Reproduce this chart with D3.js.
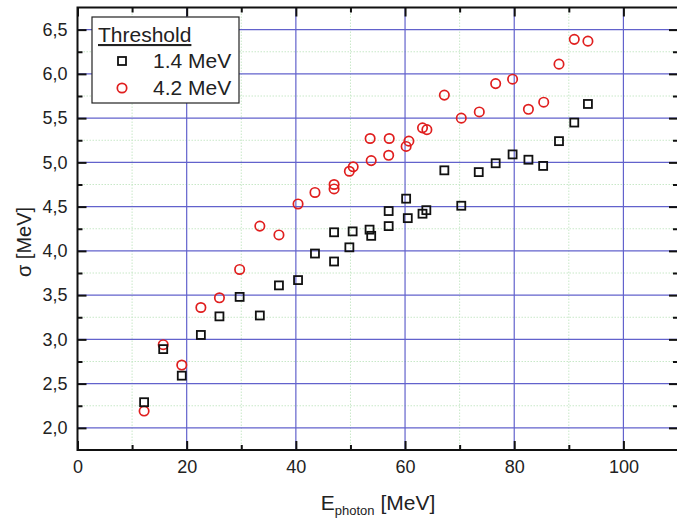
<!DOCTYPE html>
<html>
<head>
<meta charset="utf-8">
<script src="https://cdn.jsdelivr.net/npm/d3@7"></script>
<style>
	body { margin: 0; background: #fff; }
	svg { font-family: 'Liberation Sans', Arial, sans-serif; }
</style>
</head>
<body>
<div class="chart"></div>
<script>
// E_photon [MeV]
let energyLow = [12.2, 15.7, 19.1, 22.6, 26.0, 29.7, 33.4, 36.9, 40.4, 43.5, 47.0, 47.0, 49.8, 50.4, 53.5, 53.8,
	57.0, 57.0, 60.5, 60.2, 63.2, 63.9, 70.3, 67.2, 73.5, 76.6, 79.7, 82.6, 85.3, 88.2, 91.0, 93.5];
// sigma, threshold 1.4 MeV
let sigmaLow = [2.29, 2.89, 2.59, 3.05, 3.26, 3.48, 3.27, 3.61, 3.67, 3.97, 3.88, 4.21, 4.04, 4.22, 4.24, 4.17,
	4.28, 4.45, 4.37, 4.59, 4.42, 4.46, 4.51, 4.91, 4.89, 4.99, 5.09, 5.03, 4.96, 5.24, 5.45, 5.66];
let energyHigh = [12.2, 15.7, 19.1, 22.6, 26.0, 29.7, 33.4, 36.9, 40.4, 43.5, 47.0, 47.0, 49.8, 50.5, 53.8, 53.6,
	57.0, 57.1, 60.2, 60.7, 63.2, 64.0, 67.2, 70.3, 73.6, 76.6, 79.7, 82.6, 85.4, 88.2, 91.0, 93.5];
// sigma, threshold 4.2 MeV
let sigmaHigh = [2.19, 2.94, 2.71, 3.36, 3.47, 3.79, 4.28, 4.18, 4.53, 4.66, 4.70, 4.75, 4.90, 4.95, 5.02, 5.27,
	5.08, 5.27, 5.18, 5.24, 5.39, 5.37, 5.76, 5.50, 5.57, 5.89, 5.94, 5.60, 5.68, 6.11, 6.39, 6.37];

let xMajor = [0, 20, 40, 60, 80, 100];
let xMinor = [10, 30, 50, 70, 90];
let yMajor = [2.0, 2.5, 3.0, 3.5, 4.0, 4.5, 5.0, 5.5, 6.0, 6.5];
let yMinor = [2.25, 2.75, 3.25, 3.75, 4.25, 4.75, 5.25, 5.75, 6.25];
let seriesNames = ['1.4 MeV', '4.2 MeV'];

let W = 677, H = 520;
let margin = { top: 7.5, right: -1, bottom: 70, left: 77.5 };
let width = W - margin.left - margin.right;
let height = H - margin.top - margin.bottom;

let xScale = d3.scaleLinear().domain([0, 110]).range([0, width]);
let yScale = d3.scaleLinear().domain([1.75, 6.75]).range([height, 0]);

let svg = d3.select('.chart').append('svg')
	.attr('width', W)
	.attr('height', H);

let g = svg.append('g').attr('transform', 'translate(' + margin.left + ',' + margin.top + ')');

// minor grid (dotted, light green)
g.append('g').selectAll('line').data(xMinor).enter().append('line')
	.attr('x1', d => xScale(d)).attr('x2', d => xScale(d))
	.attr('y1', 0).attr('y2', height)
	.attr('stroke', '#c8e8c8').attr('stroke-width', 1).attr('stroke-dasharray', '1.5,1.5');
g.append('g').selectAll('line').data(yMinor).enter().append('line')
	.attr('x1', 0).attr('x2', width)
	.attr('y1', d => yScale(d)).attr('y2', d => yScale(d))
	.attr('stroke', '#c8e8c8').attr('stroke-width', 1).attr('stroke-dasharray', '1.5,1.5');

// major grid (blue)
g.append('g').selectAll('line').data(xMajor.slice(1)).enter().append('line')
	.attr('x1', d => xScale(d)).attr('x2', d => xScale(d))
	.attr('y1', 0).attr('y2', height)
	.attr('stroke', '#6262cc').attr('stroke-width', 1.2);
g.append('g').selectAll('line').data(yMajor).enter().append('line')
	.attr('x1', 0).attr('x2', width)
	.attr('y1', d => yScale(d)).attr('y2', d => yScale(d))
	.attr('stroke', '#6262cc').attr('stroke-width', 1.2);

// axes: ticks point inward
function styleAxis(sel) {
	sel.select('.domain').remove();
	sel.selectAll('line').attr('stroke', '#111').attr('stroke-width', 2);
	sel.selectAll('text').attr('font-size', 18).attr('fill', '#222');
}
let fmt = d3.format('.1f');

g.append('g')
	.attr('transform', 'translate(0,' + height + ')')
	.call(d3.axisBottom(xScale).tickValues(xMajor).tickSize(-9).tickPadding(10).tickFormat(d3.format('d')))
	.call(styleAxis);
g.append('g')
	.attr('transform', 'translate(0,' + height + ')')
	.call(d3.axisBottom(xScale).tickValues(xMinor).tickSize(-5).tickFormat(''))
	.call(styleAxis);
g.append('g')
	.call(d3.axisTop(xScale).tickValues(xMajor).tickSize(-9).tickFormat(''))
	.call(styleAxis);
g.append('g')
	.call(d3.axisTop(xScale).tickValues(xMinor).tickSize(-5).tickFormat(''))
	.call(styleAxis);

g.append('g')
	.call(d3.axisLeft(yScale).tickValues(yMajor).tickSize(-9).tickPadding(10).tickFormat(d => fmt(d).replace('.', ',')))
	.call(styleAxis);
g.append('g')
	.call(d3.axisLeft(yScale).tickValues(yMinor).tickSize(-5).tickFormat(''))
	.call(styleAxis);
g.append('g')
	.attr('transform', 'translate(' + width + ',0)')
	.call(d3.axisRight(yScale).tickValues(yMajor).tickSize(-9).tickFormat(''))
	.call(styleAxis);
g.append('g')
	.attr('transform', 'translate(' + width + ',0)')
	.call(d3.axisRight(yScale).tickValues(yMinor).tickSize(-5).tickFormat(''))
	.call(styleAxis);

// frame
g.append('rect')
	.attr('x', 0).attr('y', 0).attr('width', width).attr('height', height)
	.attr('fill', 'none').attr('stroke', '#111').attr('stroke-width', 2);

// data
let low = energyLow.map((e, i) => ({ e: e, s: sigmaLow[i] }));
let high = energyHigh.map((e, i) => ({ e: e, s: sigmaHigh[i] }));

g.append('g').selectAll('circle').data(high).enter().append('circle')
	.attr('cx', d => xScale(d.e)).attr('cy', d => yScale(d.s)).attr('r', 4.7)
	.attr('fill', 'none').attr('stroke', '#e01e1e').attr('stroke-width', 1.7);

g.append('g').selectAll('rect').data(low).enter().append('rect')
	.attr('x', d => xScale(d.e) - 4).attr('y', d => yScale(d.s) - 4)
	.attr('width', 8).attr('height', 8)
	.attr('fill', 'none').attr('stroke', '#111').attr('stroke-width', 1.8);

// legend
let legend = svg.append('g').attr('transform', 'translate(92,17)');
legend.append('rect')
	.attr('width', 147).attr('height', 86)
	.attr('fill', '#fff').attr('stroke', '#222').attr('stroke-width', 1.2);
legend.append('text')
	.attr('x', 6).attr('y', 25).attr('font-size', 21).attr('fill', '#222')
	.attr('text-decoration', 'underline')
	.text('Threshold');
legend.append('rect')
	.attr('x', 26).attr('y', 40).attr('width', 8).attr('height', 8)
	.attr('fill', 'none').attr('stroke', '#111').attr('stroke-width', 1.8);
legend.append('circle')
	.attr('cx', 30).attr('cy', 71).attr('r', 4.7)
	.attr('fill', 'none').attr('stroke', '#e01e1e').attr('stroke-width', 1.7);
legend.selectAll('.lbl').data(seriesNames).enter().append('text')
	.attr('class', 'lbl')
	.attr('x', 61).attr('y', (d, i) => 51 + i * 27)
	.attr('font-size', 21).attr('fill', '#222')
	.text(d => d);

// axis titles
svg.append('text')
	.attr('transform', 'translate(31,242) rotate(-90)')
	.attr('text-anchor', 'middle')
	.attr('font-size', 20).attr('fill', '#222')
	.text('σ [MeV]');

let xt = svg.append('text')
	.attr('x', 378).attr('y', 510)
	.attr('text-anchor', 'middle')
	.attr('font-size', 21).attr('fill', '#222');
xt.append('tspan').text('E');
xt.append('tspan').attr('font-size', 13).attr('dy', 5).text('photon');
xt.append('tspan').attr('dy', -5).text(' [MeV]');
</script>
</body>
</html>
